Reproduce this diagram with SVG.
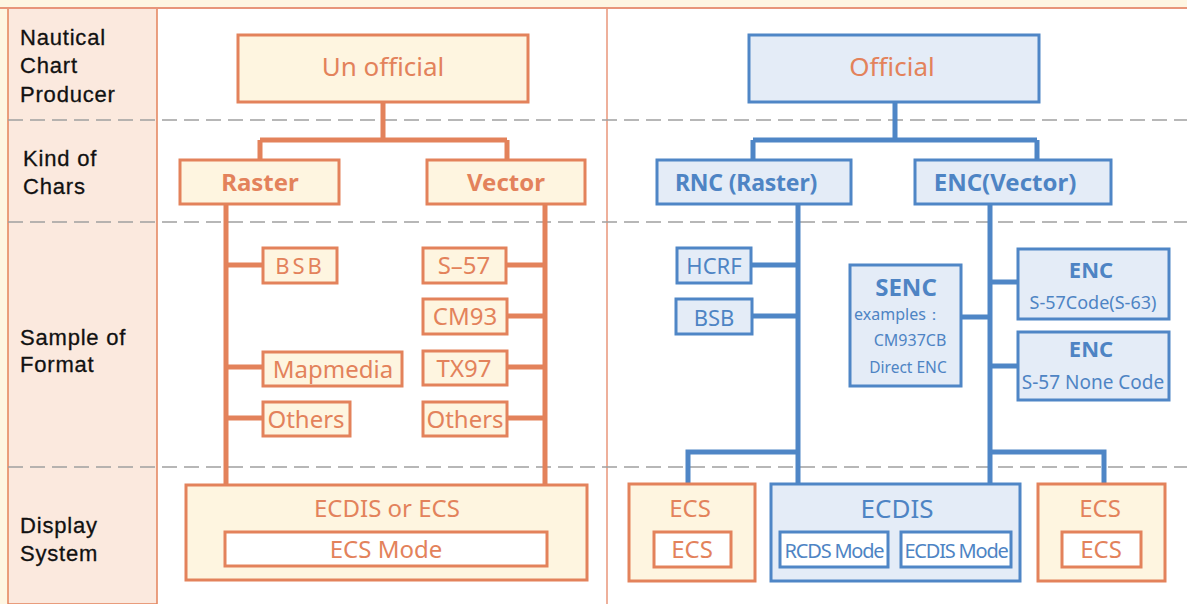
<svg xmlns="http://www.w3.org/2000/svg" width="1187" height="604" viewBox="0 0 1187 604">
<style>
.lbl{font-family:"Liberation Sans",Arial,sans-serif;font-size:22px;letter-spacing:0.8px;fill:#111;stroke:#111;stroke-width:0.3}
.t{font-family:"Noto Sans","Open Sans",sans-serif;text-anchor:middle}
.o{fill:#e3825b}
.b{fill:#4e84c4}
.bold{font-weight:bold}
.onode{fill:#fef5e0;stroke:#e3825b;stroke-width:3}
.bnode{fill:#e4ecf7;stroke:#4f86c6;stroke-width:3}
.oin{fill:#fff;stroke:#e3825b;stroke-width:3}
.bin{fill:#fff;stroke:#4f86c6;stroke-width:3}
.oc{stroke:#e3825b;stroke-width:5;fill:none}
.bc{stroke:#4f86c6;stroke-width:5;fill:none}
.dash{stroke:#a0a0a0;stroke-width:1.5;stroke-dasharray:15 7}
</style>
<rect x="0" y="0" width="1187" height="604" fill="#fef6e2"/>
<rect x="8" y="8" width="1179" height="596" fill="#fff"/>
<rect x="8" y="8" width="149" height="596" fill="#fbe9de" stroke="#e3825b" stroke-width="1.5"/>
<line x1="0" y1="8" x2="1187" y2="8" stroke="#e8967a" stroke-width="2"/>
<line x1="607" y1="8" x2="607" y2="604" stroke="#e8967a" stroke-width="1.5"/>
<g id="gridlines">
<line class="dash" x1="8" y1="120" x2="1187" y2="120"/>
<line class="dash" x1="8" y1="222" x2="1187" y2="222"/>
<line class="dash" x1="8" y1="467" x2="1187" y2="467"/>
</g>
<g id="row-labels">
<text class="lbl" x="20" y="45">Nautical</text>
<text class="lbl" x="20" y="73">Chart</text>
<text class="lbl" x="20" y="102">Producer</text>
<text class="lbl" x="23" y="166">Kind of</text>
<text class="lbl" x="23" y="194">Chars</text>
<text class="lbl" x="20" y="345">Sample of</text>
<text class="lbl" x="20" y="372">Format</text>
<text class="lbl" x="20" y="533">Display</text>
<text class="lbl" x="20" y="561">System</text>
</g>
<g id="connectors">
<path class="oc" d="M383 102V140M260 140H507M260 140V160M507 140V160"/>
<path class="oc" d="M226 204V486M545 204V486"/>
<path class="oc" d="M226 265H263M226 367H263M226 418H263"/>
<path class="oc" d="M507 265H545M507 316H545M507 367H545M507 418H545"/>
<path class="bc" d="M895 102V140M753 140H1037M753 140V160M1037 140V160"/>
<path class="bc" d="M798 204V532M990 204V532"/>
<path class="bc" d="M751 265H798M752 316H798"/>
<path class="bc" d="M961 317H990M990 282H1018M990 366H1018"/>
<path class="bc" d="M688 484V452H798M990 452H1104V484"/>
</g>
<g id="n-unofficial"><rect class="onode" x="238" y="35" width="290" height="67"/><text class="t o" x="383" y="76" font-size="26">Un official</text></g>
<g id="n-raster"><rect class="onode" x="180" y="160" width="159" height="44"/><text class="t o bold" x="260" y="191" font-size="24">Raster</text></g>
<g id="n-vector"><rect class="onode" x="427" y="160" width="158" height="44"/><text class="t o bold" x="506" y="191" font-size="24">Vector</text></g>
<g id="n-bsb1"><rect class="onode" x="263" y="248" width="74" height="35"/><text class="t o" x="300" y="274" font-size="22" letter-spacing="3">BSB</text></g>
<g id="n-mapmedia"><rect class="onode" x="263" y="352" width="139" height="34"/><text class="t o" x="333" y="378" font-size="24">Mapmedia</text></g>
<g id="n-others1"><rect class="onode" x="263" y="402" width="87" height="34"/><text class="t o" x="306" y="428" font-size="24">Others</text></g>
<g id="n-s57"><rect class="onode" x="423" y="248" width="83" height="35"/><text class="t o" x="464" y="274" font-size="24">S–57</text></g>
<g id="n-cm93"><rect class="onode" x="423" y="299" width="84" height="35"/><text class="t o" x="465" y="325" font-size="24">CM93</text></g>
<g id="n-tx97"><rect class="onode" x="423" y="351" width="84" height="34"/><text class="t o" x="464" y="377" font-size="24">TX97</text></g>
<g id="n-others2"><rect class="onode" x="423" y="402" width="84" height="34"/><text class="t o" x="465" y="428" font-size="24">Others</text></g>
<g id="n-ecdis-or-ecs"><rect class="onode" x="186" y="485" width="401" height="95"/><text class="t o" x="387" y="517" font-size="24">ECDIS or ECS</text><rect class="oin" x="225" y="532" width="322" height="34"/><text class="t o" x="386" y="558" font-size="24">ECS Mode</text></g>
<g id="n-official"><rect class="bnode" x="749" y="35" width="290" height="67"/><text class="t o" x="892" y="76" font-size="26">Official</text></g>
<g id="n-rnc"><rect class="bnode" x="657" y="160" width="194" height="44"/><text class="t b bold" x="746" y="191" font-size="23" letter-spacing="-0.2">RNC (Raster)</text></g>
<g id="n-enc"><rect class="bnode" x="915" y="160" width="196" height="44"/><text class="t b bold" x="1005" y="191" font-size="24">ENC(Vector)</text></g>
<g id="n-hcrf"><rect class="bnode" x="677" y="248" width="74" height="35"/><text class="t b" x="714" y="274" font-size="22">HCRF</text></g>
<g id="n-bsb2"><rect class="bnode" x="676" y="299" width="76" height="35"/><text class="t b" x="714" y="326" font-size="22">BSB</text></g>
<g id="n-senc"><rect class="bnode" x="850" y="265" width="111" height="121"/><text class="t b bold" x="906" y="296" font-size="24">SENC</text><text class="t b" x="898" y="320" font-size="16">examples：</text><text class="t b" x="910" y="346" font-size="16">CM937CB</text><text class="t b" x="908" y="373" font-size="15.5">Direct ENC</text></g>
<g id="n-enc1"><rect class="bnode" x="1018" y="249" width="151" height="70"/><text class="t b bold" x="1091" y="278" font-size="22">ENC</text><text class="t b" x="1093" y="309" font-size="18">S-57Code(S-63)</text></g>
<g id="n-enc2"><rect class="bnode" x="1018" y="332" width="151" height="68"/><text class="t b bold" x="1091" y="357" font-size="22">ENC</text><text class="t b" x="1093" y="389" font-size="19">S-57 None Code</text></g>
<g id="n-ecs-left"><rect class="onode" x="629" y="484" width="126" height="97"/><text class="t o" x="690" y="517" font-size="24">ECS</text><rect class="oin" x="654" y="532" width="77" height="35"/><text class="t o" x="692" y="558" font-size="24">ECS</text></g>
<g id="n-ecdis"><rect class="bnode" x="771" y="484" width="249" height="97"/><text class="t b" x="897" y="518" font-size="26">ECDIS</text><rect class="bin" x="780" y="532" width="108" height="35"/><text class="t b" x="834" y="558" font-size="20" letter-spacing="-1.2">RCDS Mode</text><rect class="bin" x="901" y="532" width="110" height="35"/><text class="t b" x="956" y="558" font-size="20" letter-spacing="-1.2">ECDIS Mode</text></g>
<g id="n-ecs-right"><rect class="onode" x="1038" y="484" width="127" height="97"/><text class="t o" x="1100" y="517" font-size="24">ECS</text><rect class="oin" x="1062" y="532" width="79" height="35"/><text class="t o" x="1101" y="558" font-size="24">ECS</text></g>
</svg>
